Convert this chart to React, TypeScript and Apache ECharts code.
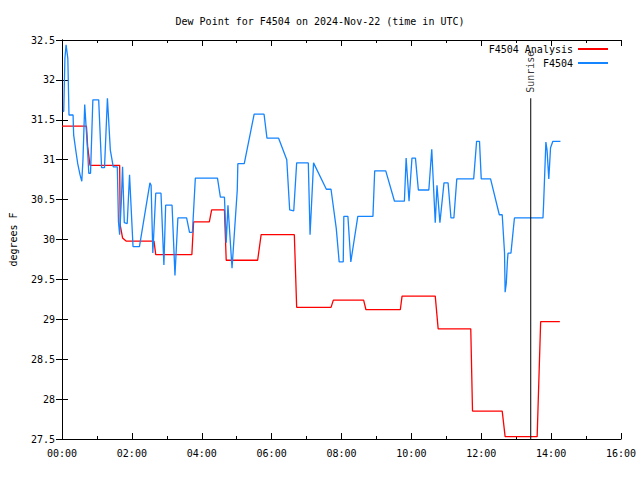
import React, { useEffect, useRef } from "react";
import * as echarts from "echarts";

// Time in minutes after 00:00 UTC
const analysisTimes = [0, 42, 44, 48, 99, 100, 104, 110, 158, 161, 223, 226, 253, 257, 279, 282, 336, 342, 399, 403, 462, 466, 518, 522, 581, 584, 641, 646, 702, 705, 756, 761, 816, 822, 855];
const analysisValues = [31.42, 31.42, 31.17, 30.93, 30.93, 30.18, 30.02, 29.98, 29.98, 29.81, 29.81, 30.22, 30.22, 30.37, 30.37, 29.74, 29.74, 30.06, 30.06, 29.15, 29.15, 29.24, 29.24, 29.12, 29.12, 29.29, 29.29, 28.88, 28.88, 27.85, 27.85, 27.53, 27.53, 28.97, 28.97];

const stationTimes = [2, 3, 5, 7, 8, 10, 12, 14, 19, 20, 24, 27, 31, 34, 36, 39, 44, 46, 49, 53, 63, 68, 73, 78, 83, 88, 95, 97, 99, 102, 104, 107, 112, 116, 117, 122, 133, 151, 153, 156, 161, 170, 175, 178, 189, 194, 199, 214, 219, 224, 229, 267, 272, 279, 282, 285, 292, 301, 302, 313, 330, 347, 352, 372, 386, 391, 398, 403, 423, 426, 432, 454, 462, 471, 476, 483, 484, 491, 496, 508, 534, 537, 556, 571, 588, 591, 596, 601, 607, 612, 630, 635, 641, 644, 649, 656, 663, 668, 673, 678, 707, 712, 717, 720, 736, 751, 756, 760, 761, 763, 765, 766, 771, 777, 826, 827, 831, 833, 836, 839, 843, 856];
const stationValues = [31.6, 31.61, 32.27, 32.44, 32.44, 32.27, 31.56, 31.56, 31.56, 31.31, 31.1, 30.95, 30.81, 30.73, 31.0, 31.69, 31.11, 30.83, 30.83, 31.75, 31.75, 30.9, 30.9, 31.77, 31.12, 30.91, 30.91, 30.22, 30.06, 30.5, 30.91, 30.21, 30.2, 30.81, 30.81, 29.91, 29.91, 30.71, 30.68, 29.83, 30.58, 30.58, 29.68, 30.43, 30.43, 29.55, 30.27, 30.27, 30.09, 30.09, 30.77, 30.77, 30.53, 30.53, 29.96, 30.43, 29.64, 30.62, 30.95, 30.95, 31.57, 31.57, 31.27, 31.27, 31.0, 30.37, 30.36, 30.96, 30.96, 30.06, 30.96, 30.63, 30.63, 30.14, 29.72, 29.72, 30.29, 30.29, 29.72, 30.29, 30.29, 30.86, 30.86, 30.48, 30.48, 31.02, 30.48, 31.02, 31.02, 30.62, 30.62, 31.13, 30.21, 30.68, 30.21, 30.71, 30.71, 30.27, 30.27, 30.76, 30.76, 31.23, 31.23, 30.76, 30.76, 30.31, 30.31, 29.83, 29.34, 29.45, 29.74, 29.83, 29.83, 30.27, 30.27, 30.43, 31.22, 31.12, 30.76, 31.15, 31.23, 31.23];

const sunriseTime = 805;
const sunriseTop = 31.77;
const sunriseLabel = "Sunrise";
const yMin = 27.5;
const yMax = 32.5;
const xMin = 0;
const xMax = 960;

const FONT = "DejaVu Sans Mono";

function fmtTime(m: number): string {
  const h = Math.floor(m / 60);
  const mm = m % 60;
  return `${String(h).padStart(2, "0")}:${String(mm).padStart(2, "0")}`;
}

export default function App() {
  const ref = useRef<HTMLDivElement>(null);
  useEffect(() => {
    if (!ref.current) return;
    const chart = echarts.init(ref.current, null, { renderer: "svg" });
    const axisCommon = {
      axisLine: { show: true, lineStyle: { color: "#000", width: 1 } },
      splitLine: { show: false },
    };
    chart.setOption({
      animation: false,
      backgroundColor: "#fff",
      title: {
        text: "Dew Point for F4504 on 2024-Nov-22 (time in UTC)",
        left: "center",
        top: 11,
        textStyle: { fontFamily: FONT, fontSize: 10, fontWeight: "normal", color: "#000" },
      },
      legend: {
        data: ["F4504 Analysis", "F4504"],
        orient: "vertical",
        right: 27,
        top: 38,
        align: "right",
        icon: "rect",
        itemWidth: 30,
        itemHeight: 2,
        itemGap: 2,
        textStyle: { fontFamily: FONT, fontSize: 10, color: "#000", lineHeight: 12 },
      },
      grid: { left: 56, right: 19, top: 40, bottom: 41, containLabel: false },
      xAxis: [
        {
          type: "value",
          min: xMin,
          max: xMax,
          interval: 120,
          ...axisCommon,
          axisTick: { show: true, inside: true, length: 6, lineStyle: { color: "#000" } },
          minorTick: { show: true, splitNumber: 2, length: 3, lineStyle: { color: "#000" } },
          axisLabel: { formatter: (v: number) => fmtTime(v), fontFamily: FONT, fontSize: 10, color: "#000", margin: 9 },
        },
        {
          type: "value",
          position: "top",
          min: xMin,
          max: xMax,
          interval: 120,
          ...axisCommon,
          axisTick: { show: true, inside: true, length: 6, lineStyle: { color: "#000" } },
          minorTick: { show: true, splitNumber: 2, length: 3, lineStyle: { color: "#000" } },
          axisLabel: { show: false },
        },
      ],
      yAxis: [
        {
          type: "value",
          min: yMin,
          max: yMax,
          interval: 0.5,
          ...axisCommon,
          name: "degrees F",
          nameLocation: "middle",
          nameRotate: 90,
          nameGap: 44,
          nameTextStyle: { fontFamily: FONT, fontSize: 10, color: "#000" },
          axisTick: { show: true, inside: true, length: 6, lineStyle: { color: "#000" } },
          axisLabel: { formatter: (v: number) => String(v), fontFamily: FONT, fontSize: 10, color: "#000", margin: 7 },
        },
        {
          type: "value",
          position: "right",
          min: yMin,
          max: yMax,
          interval: 0.5,
          ...axisCommon,
          axisTick: { show: true, inside: true, length: 6, lineStyle: { color: "#000" } },
          axisLabel: { show: false },
        },
      ],
      series: [
        {
          name: "F4504 Analysis",
          type: "line",
          data: analysisTimes.map((t, i) => [t, analysisValues[i]]),
          showSymbol: false,
          lineStyle: { color: "#ff0000", width: 1.3 },
          itemStyle: { color: "#ff0000" },
          z: 3,
        },
        {
          name: "F4504",
          type: "line",
          data: stationTimes.map((t, i) => [t, stationValues[i]]),
          showSymbol: false,
          lineStyle: { color: "#1584ff", width: 1.3 },
          itemStyle: { color: "#1584ff" },
          z: 4,
        },
        {
          name: "SunriseLine",
          type: "line",
          data: [
            [sunriseTime, yMin],
            [sunriseTime, sunriseTop],
          ],
          showSymbol: false,
          lineStyle: { color: "#000", width: 1 },
          itemStyle: { color: "#000" },
          z: 5,
        },
        {
          name: "SunriseText",
          type: "scatter",
          data: [[sunriseTime, sunriseTop]],
          symbol: "circle",
          symbolSize: 1,
          itemStyle: { color: "rgba(0,0,0,0)" },
          label: {
            show: true,
            formatter: sunriseLabel,
            position: "top",
            distance: 5,
            rotate: 90,
            align: "left",
            verticalAlign: "middle",
            fontFamily: FONT,
            fontSize: 10,
            color: "#000",
          },
          z: 6,
        },
      ],
    });
    return () => chart.dispose();
  }, []);
  return (
    <div
      ref={ref}
      style={{ position: "fixed", left: 0, top: 0, width: 640, height: 480, background: "#fff" }}
    />
  );
}
